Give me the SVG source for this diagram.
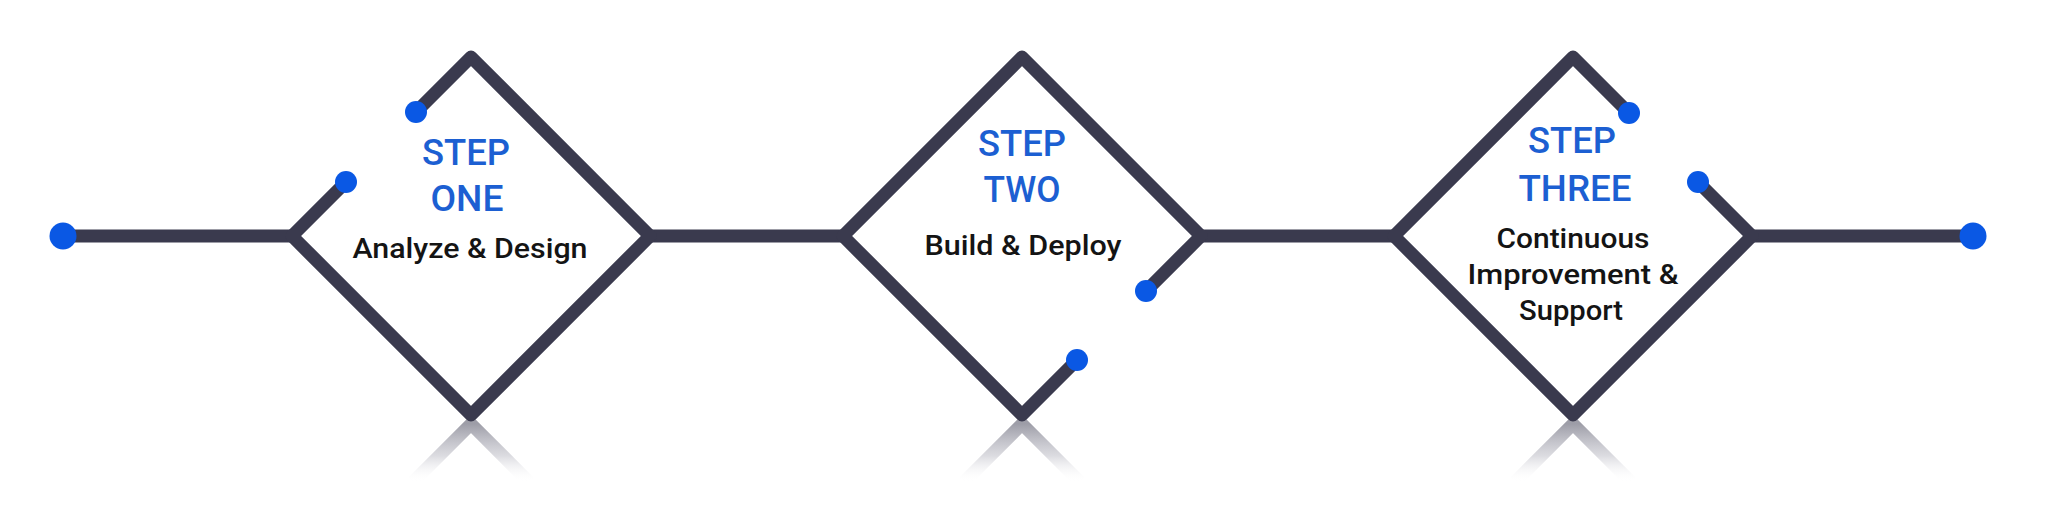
<svg xmlns="http://www.w3.org/2000/svg" width="2048" height="511" viewBox="0 0 2048 511">
  <style>
    .edge { fill: none; stroke: #3a3a4e; stroke-width: 13; stroke-linecap: round; stroke-linejoin: round; }
    .refl { fill: none; stroke: url(#fade); stroke-width: 13; stroke-linecap: butt; stroke-linejoin: round; }
    .dot { fill: #0a58e4; }
    .end { fill: #0a58e4; }
    .step { font-family: Roboto, "Liberation Sans", sans-serif; font-weight: 500; font-size: 36px; fill: #1c5fd2; text-anchor: middle; }
    .lbl { font-family: Roboto, "Liberation Sans", sans-serif; font-weight: 500; font-size: 27px; fill: #141414; text-anchor: middle; }
  </style>
  <defs>
    <linearGradient id="fade" x1="0" y1="0" x2="0" y2="1">
      <stop offset="0" stop-color="#8c8c98" stop-opacity="0.85"/>
      <stop offset="0.55" stop-color="#b8b8c2" stop-opacity="0.5"/>
      <stop offset="1" stop-color="#ffffff" stop-opacity="0"/>
    </linearGradient>
  </defs>
  <rect width="2048" height="511" fill="#ffffff"/>

  <g id="connectors">
    <line class="edge" x1="63" y1="236" x2="292" y2="236"/>
    <line class="edge" x1="650" y1="236" x2="843" y2="236"/>
    <line class="edge" x1="1201" y1="236" x2="1394" y2="236"/>
    <line class="edge" x1="1752" y1="236" x2="1973" y2="236"/>
    <circle class="end" cx="63" cy="236" r="13.5"/>
    <circle class="end" cx="1973" cy="236" r="13.5"/>
  </g>

  <g id="step-one">
    <path class="refl" d="M 413 482 L 471 424 L 529 482"/>
    <path class="edge" d="M 416 112 L 471 57 L 650 236 L 471 415 L 292 236 L 346 182"/>
    <circle class="dot" cx="416" cy="112" r="11"/>
    <circle class="dot" cx="346" cy="182" r="11"/>
    <text class="step" x="466" y="165" textLength="88" lengthAdjust="spacingAndGlyphs">STEP</text>
    <text class="step" x="467" y="211" textLength="73" lengthAdjust="spacingAndGlyphs">ONE</text>
    <text class="lbl" x="470" y="258" textLength="235" lengthAdjust="spacingAndGlyphs">Analyze &amp; Design</text>
  </g>

  <g id="step-two">
    <path class="refl" d="M 964 482 L 1022 424 L 1080 482"/>
    <path class="edge" d="M 1146 291 L 1201 236 L 1022 57 L 843 236 L 1022 415 L 1077 360"/>
    <circle class="dot" cx="1146" cy="291" r="11"/>
    <circle class="dot" cx="1077" cy="360" r="11"/>
    <text class="step" x="1022" y="156" textLength="88" lengthAdjust="spacingAndGlyphs">STEP</text>
    <text class="step" x="1022" y="202" textLength="77" lengthAdjust="spacingAndGlyphs">TWO</text>
    <text class="lbl" x="1023" y="255" textLength="197" lengthAdjust="spacingAndGlyphs">Build &amp; Deploy</text>
  </g>

  <g id="step-three">
    <path class="refl" d="M 1515 482 L 1573 424 L 1631 482"/>
    <path class="edge" d="M 1629 113 L 1573 57 L 1394 236 L 1573 415 L 1752 236 L 1698 182"/>
    <circle class="dot" cx="1629" cy="113" r="11"/>
    <circle class="dot" cx="1698" cy="182" r="11"/>
    <text class="step" x="1572" y="153" textLength="88" lengthAdjust="spacingAndGlyphs">STEP</text>
    <text class="step" x="1575" y="201" textLength="113" lengthAdjust="spacingAndGlyphs">THREE</text>
    <text class="lbl" x="1573" y="248" textLength="153" lengthAdjust="spacingAndGlyphs">Continuous</text>
    <text class="lbl" x="1573" y="284" textLength="211" lengthAdjust="spacingAndGlyphs">Improvement &amp;</text>
    <text class="lbl" x="1571" y="320" textLength="104" lengthAdjust="spacingAndGlyphs">Support</text>
  </g>
</svg>
